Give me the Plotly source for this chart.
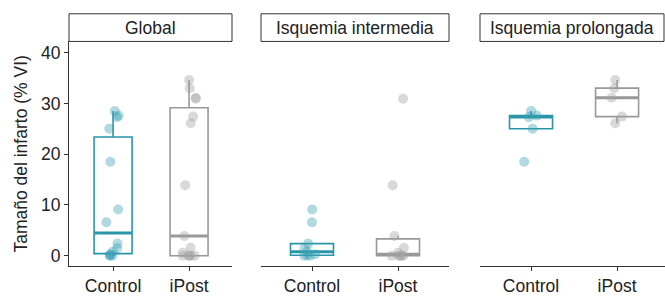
import numpy as np
import plotly.graph_objects as go

# ---- data ----
panels = ["Global", "Isquemia intermedia", "Isquemia prolongada"]
groups = ["Control", "iPost"]
y_ticks = [0, 10, 20, 30, 40]

intermedia_control = [9.1, 6.6, 2.4, 1.5, 0.8, 0.3, 0.1, 0.0, 0.0]
intermedia_ipost = [30.9, 13.9, 3.9, 1.6, 0.6, 0.0, 0.0, 0.0, 0.0, 0.0]
prolongada_control = [28.5, 27.6, 27.3, 25.0, 18.5]
prolongada_ipost = [34.6, 33.0, 31.1, 27.4, 26.1]

global_control = prolongada_control + intermedia_control
global_ipost = prolongada_ipost + intermedia_ipost

panel_data = [
    [global_control, global_ipost],
    [intermedia_control, intermedia_ipost],
    [prolongada_control, prolongada_ipost],
]

# ---- style ----
W, H = 665, 296
FONT = "Liberation Sans, Arial, Helvetica, sans-serif"
box_colors = ["#2a95a8", "#999999"]
pt_colors = ["#3a9fb3", "#a0a0a0"]
TXT = "#222222"

# panel pixel geometry
x_px = [(69, 232), (261, 449), (480, 665)]
x_ranges = [[-0.58, 1.565], [-0.593, 1.593], [-0.593, 1.557]]
plot_top, plot_bot = 42, 270
strip_top = 14
y_range = [-2.08, 42.2]


def px2fx(p):
    return p / W


def px2fy(p):
    return (H - p) / H


def tukey(vals):
    a = np.asarray(vals, dtype=float)
    q1, med, q3 = np.percentile(a, [25, 50, 75])
    iqr = q3 - q1
    lo = a[a >= q1 - 1.5 * iqr].min()
    hi = a[a <= q3 + 1.5 * iqr].max()
    return q1, med, q3, lo, hi


rng = np.random.default_rng(7)

fig = go.Figure()
shapes = []
annotations = []

for p, (name, data) in enumerate(zip(panels, panel_data)):
    xa = "x" if p == 0 else f"x{p+1}"
    ya = "y" if p == 0 else f"y{p+1}"
    for g, vals in enumerate(data):
        q1, med, q3, lo, hi = tukey(vals)
        fig.add_trace(go.Box(
            x=[g], q1=[q1], median=[med], q3=[q3],
            lowerfence=[lo], upperfence=[hi],
            width=0.5, whiskerwidth=0, boxpoints=False,
            line=dict(color=box_colors[g], width=1.6),
            fillcolor="rgba(255,255,255,0)",
            xaxis=xa, yaxis=ya, showlegend=False, hoverinfo="skip",
        ))
        # thicker median line (ggplot style)
        fig.add_trace(go.Scatter(
            x=[g - 0.25, g + 0.25], y=[med, med], mode="lines",
            line=dict(color=box_colors[g], width=3),
            xaxis=xa, yaxis=ya, showlegend=False, hoverinfo="skip",
        ))
        jit = rng.uniform(-0.09, 0.09, len(vals))
        fig.add_trace(go.Scatter(
            x=g + jit, y=vals, mode="markers",
            marker=dict(color=pt_colors[g], size=10, opacity=0.4,
                        line=dict(width=0)),
            xaxis=xa, yaxis=ya, showlegend=False, hoverinfo="skip",
        ))

    x0, x1 = x_px[p]
    # strip box
    shapes.append(dict(type="rect", xref="paper", yref="paper",
                       x0=px2fx(x0), x1=px2fx(min(x1, 664)),
                       y0=px2fy(plot_top), y1=px2fy(strip_top),
                       line=dict(color="#333333", width=1),
                       fillcolor="white", layer="above"))
    annotations.append(dict(text=name, xref="paper", yref="paper",
                            x=(px2fx(x0) + px2fx(min(x1, 664))) / 2,
                            y=(px2fy(plot_top) + px2fy(strip_top)) / 2,
                            showarrow=False, xanchor="center", yanchor="middle",
                            font=dict(family=FONT, size=17.5, color=TXT)))

layout = dict(
    width=W, height=H,
    margin=dict(l=0, r=0, t=0, b=0),
    paper_bgcolor="white", plot_bgcolor="white",
    font=dict(family=FONT, color=TXT),
    shapes=shapes, annotations=annotations,
)

for p in range(3):
    xk = "xaxis" if p == 0 else f"xaxis{p+1}"
    yk = "yaxis" if p == 0 else f"yaxis{p+1}"
    x0, x1 = x_px[p]
    layout[xk] = dict(
        domain=[px2fx(x0), px2fx(x1)], range=x_ranges[p],
        tickvals=[0, 1], ticktext=groups,
        showline=True, linecolor="#333333", linewidth=1.2,
        ticks="outside", ticklen=4, tickcolor="#333333", tickwidth=1.2,
        showgrid=False, zeroline=False, fixedrange=True,
        tickfont=dict(family=FONT, size=17.5, color=TXT),
        anchor="y" if p == 0 else f"y{p+1}",
    )
    layout[yk] = dict(
        domain=[px2fy(plot_bot), px2fy(plot_top)], range=y_range,
        showgrid=False, zeroline=False, fixedrange=True,
        anchor="x" if p == 0 else f"x{p+1}",
    )
    if p == 0:
        layout[yk].update(
            tickvals=y_ticks, ticktext=[str(v) for v in y_ticks],
            showline=True, linecolor="#333333", linewidth=1.2,
            ticks="outside", ticklen=4, tickcolor="#333333", tickwidth=1.2,
            tickfont=dict(family=FONT, size=17.5, color=TXT),
            title=dict(text="Tamaño del infarto (% VI)", standoff=8,
                       font=dict(family=FONT, size=17.5, color=TXT)),
        )
    else:
        layout[yk].update(showline=False, showticklabels=False, ticks="")

fig.update_layout(**layout)
fig.write_html("out.html", config={"displayModeBar": False},
               post_script="document.body.style.margin='0';document.body.style.overflow='hidden';")
